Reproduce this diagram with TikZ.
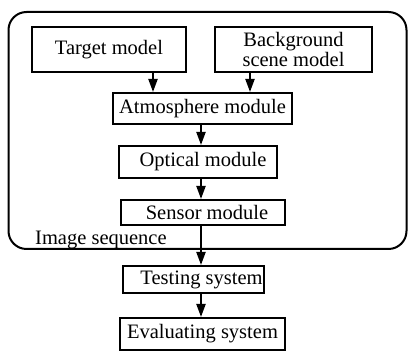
\documentclass[tikz,border=0pt]{standalone}
\usepackage{fontspec}
\setmainfont{Liberation Serif}
\usetikzlibrary{arrows.meta}
\begin{document}
\begin{tikzpicture}[x=1pt,y=-1pt,
  box/.style={draw, line width=2pt, inner sep=0pt, align=center,
    font=\fontsize{20.5}{20}\selectfont},
  flow/.style={line width=2pt, -{Triangle[length=13pt,width=9pt]}},
  frame/.style={draw, line width=2pt, rounded corners=18pt},
  caption/.style={inner sep=0pt, font=\fontsize{20.5}{20}\selectfont}]
\useasboundingbox (0,0) rectangle (408,352);
% simulation block
\draw[frame] (8.5,12) rectangle (406.5,249);
% modules
\node[box, minimum width=154pt, minimum height=45pt] (target) at (109,49.5) {Target model};
\node[box, minimum width=157pt, minimum height=45pt] (bg) at (293.5,49.5) {Background\\scene model};
\node[box, minimum width=179pt, minimum height=31pt] (atmo) at (202.5,108.5) {Atmosphere module};
\node[box, minimum width=158pt, minimum height=32pt] (optic) at (198,162) {\hspace*{10pt}Optical module};
\node[box, minimum width=164pt, minimum height=25pt] (sensor) at (203,212.5) {\hspace*{8pt}Sensor module};
\node[box, minimum width=141pt, minimum height=27pt] (test) at (193.5,279.5) {\hspace*{16pt}Testing system};
\node[box, minimum width=165pt, minimum height=32pt] (eval) at (202.5,334) {Evaluating system};
\node[caption, anchor=base west] (seq) at (35,245) {Image sequence};
% arrow columns
\coordinate (tx) at (153,0);
\coordinate (bx) at (250,0);
\coordinate (ax) at (201,0);
% connectors
\draw[flow] (target.south -| tx) -- (atmo.north -| tx);
\draw[flow] (bg.south -| bx) -- (atmo.north -| bx);
\draw[flow] (atmo.south -| ax) -- (optic.north -| ax);
\draw[flow] (optic.south -| ax) -- (sensor.north -| ax);
\draw[flow] (sensor.south -| ax) -- (test.north -| ax);
\draw[flow] (test.south -| ax) -- (eval.north -| ax);
\end{tikzpicture}
\end{document}
